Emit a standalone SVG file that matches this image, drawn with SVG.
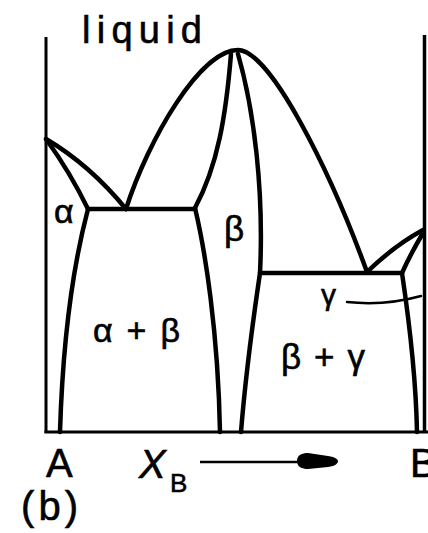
<svg xmlns="http://www.w3.org/2000/svg" width="428" height="533" viewBox="0 0 428 533">
<style>
.ln{fill:none;stroke:#000;stroke-width:4.5;stroke-linecap:round;stroke-linejoin:round}
.ax{fill:none;stroke:#000;stroke-width:3}
.t{font-family:"Liberation Sans",Arial,sans-serif;fill:#000;stroke:#000;stroke-width:0.6}
</style>
<rect width="428" height="533" fill="#fff"/>
<g id="axes">
<path class="ax" d="M46,37 V433"/>
<path class="ax" d="M424.5,35 V433" style="stroke-width:3.5"/>
<path class="ax" d="M44.5,432 H428"/>
</g>
<g id="phase-boundaries">
<path class="ln" d="M46,139 Q90,165 126,209"/>
<path class="ln" d="M46,139 Q70,172 88,209"/>
<path class="ln" d="M88,209 H195"/>
<path class="ln" d="M88,209 Q64,300 60,432"/>
<path class="ln" d="M126,209 C148,140 200,50 238,50 C270,50 330,170 367,272"/>
<path class="ln" d="M231,54 C226,115 218,165 195,208"/>
<path class="ln" d="M195,208 C205,250 218,330 220,432"/>
<path class="ln" d="M238,54 C254,110 264,190 260,273"/>
<path class="ln" d="M260,273 C256,300 246,370 241,432"/>
<path class="ln" d="M260,273 H402"/>
<path class="ln" d="M367,272 Q395,245 423,230"/>
<path class="ln" d="M402,273 Q410,255 423,233"/>
<path class="ln" d="M402,273 C409,320 416,380 417,432"/>
<path class="ln" d="M347,302 Q385,306 421,296" style="stroke-width:2.5"/>
</g>
<g id="axis-arrow">
<path d="M200,462 H300" fill="none" stroke="#000" stroke-width="2.5"/>
<path d="M297,461 C297,455 302,453 308,453 L328,456 C336,457 338,460 338,461 C338,463 336,466 328,467 L308,469 C302,469 297,467 297,461 Z" fill="#000"/>
</g>
<g id="labels">
<text class="t" x="82" y="43" font-size="38" textLength="120" lengthAdjust="spacing">liquid</text>
<text class="t" x="54" y="223" font-size="34">α</text>
<text class="t" x="93" y="342" font-size="34" textLength="87" lengthAdjust="spacing">α + β</text>
<text class="t" x="224" y="241" font-size="35">β</text>
<text class="t" x="321" y="305" font-size="30">γ</text>
<text class="t" x="281" y="369" font-size="35" textLength="84" lengthAdjust="spacing">β + γ</text>
<text class="t" x="46" y="477" font-size="40">A</text>
<text class="t" x="139" y="478" font-size="40" font-style="italic">X</text>
<text class="t" x="170" y="492" font-size="26">B</text>
<text class="t" x="410" y="477" font-size="40">B</text>
<text class="t" x="21" y="520" font-size="40" textLength="57" lengthAdjust="spacing">(b)</text>
</g>
</svg>
